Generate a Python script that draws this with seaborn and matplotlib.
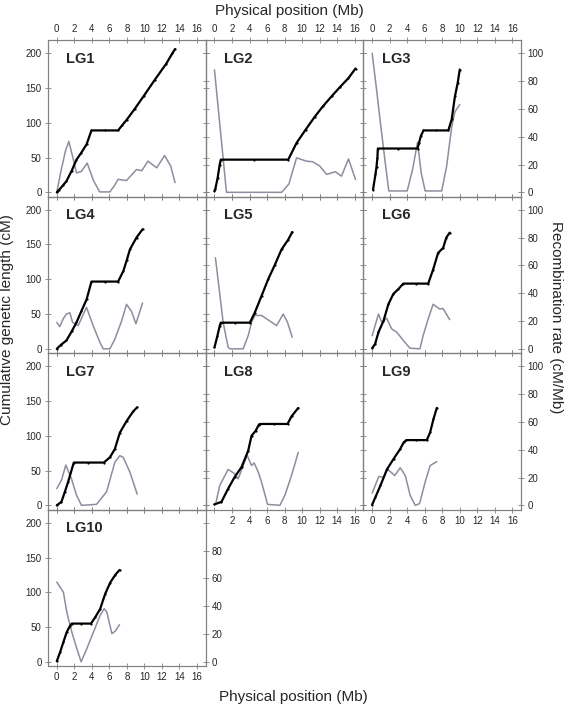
import matplotlib
matplotlib.use("Agg")
import matplotlib.pyplot as plt
import seaborn as sns

# Physical position (Mb) vs cumulative genetic length (cM)
lg1_pos = [0, 0.3, 0.7, 1.1, 1.7, 2.25, 2.8, 3.4, 3.96, 5.5, 7.0, 7.5, 7.96, 8.9, 9.9, 11.2, 12.5, 13.2, 13.5]
lg1_cm = [0, 4, 10, 16, 31, 47, 57, 69, 89, 89, 89, 97, 104, 120, 138, 162, 185, 200, 206]
lg2_pos = [0, 0.1, 0.35, 0.6, 0.72, 4.5, 8.42, 9.37, 10.4, 11.47, 12.4, 13.37, 14.3, 15.28, 16.1]
lg2_cm = [2, 5, 20, 40, 47, 47, 47, 71, 90, 109, 124, 138, 151, 164, 178]
lg3_pos = [0.1, 0.38, 0.5, 0.6, 0.65, 2.9, 5.18, 5.35, 5.56, 5.86, 7.3, 8.7, 9.08, 9.45, 9.76, 10.0]
lg3_cm = [4, 26, 37, 50, 63, 63, 63, 71, 81, 89, 89, 89, 105, 138, 157, 176.5]
lg4_pos = [0, 0.5, 1.1, 1.7, 2.25, 2.8, 3.4, 3.96, 5.5, 7.0, 7.6, 8.0, 8.35, 9.1, 9.8]
lg4_cm = [0, 6, 12, 25, 38, 54, 71, 96.7, 96.7, 96.7, 112, 128, 143, 160, 172]
lg5_pos = [0, 0.34, 0.6, 0.72, 2.4, 4.04, 4.6, 5.37, 6.13, 6.9, 7.66, 8.42, 8.88]
lg5_cm = [2, 19, 33, 37.6, 37.6, 37.6, 52, 76, 100, 121, 143, 157, 168]
lg6_pos = [0, 0.34, 0.72, 1.29, 1.85, 2.42, 3.0, 3.55, 5.0, 6.4, 6.96, 7.53, 8.1, 8.47, 8.85]
lg6_cm = [1, 7, 24, 40, 64, 79, 86, 93.8, 93.8, 93.8, 114, 138, 145, 160, 167]
lg7_pos = [0, 0.53, 0.91, 1.3, 1.94, 3.6, 5.37, 6.06, 6.63, 7.2, 7.96, 8.72, 9.18]
lg7_cm = [0, 5, 19, 34, 61.5, 61.5, 61.5, 69, 81, 104.5, 121, 135, 141]
lg8_pos = [0, 0.8, 1.56, 2.32, 3.09, 3.85, 4.23, 4.69, 5.07, 5.18, 6.8, 8.34, 8.8, 9.56]
lg8_cm = [1.4, 5, 24, 41, 55, 78.5, 100, 107, 116, 117, 117, 117, 128, 140]
lg9_pos = [0, 0.38, 0.95, 1.7, 2.46, 3.2, 3.6, 3.9, 5.0, 6.24, 6.62, 7.0, 7.38]
lg9_cm = [1, 12, 28.6, 52, 67, 81, 90.5, 93.8, 93.8, 93.8, 105, 124, 140]
lg10_pos = [0, 0.38, 0.76, 1.14, 1.52, 1.71, 2.8, 3.9, 4.38, 4.95, 5.52, 6.1, 6.67, 7.16]
lg10_cm = [1, 14, 28.6, 43, 52, 55, 55, 55, 64, 76, 97.6, 114, 125, 132]

# Recombination rate (cM/Mb) along each linkage group
lg1_rpos = [0, 0.5, 1.0, 1.37, 1.8, 2.25, 2.8, 3.47, 4.2, 4.9, 6.06, 6.6, 7.0, 7.96, 9.1, 9.7, 10.4, 11.4, 12.3, 13.0, 13.5]
lg1_rate = [0, 16, 30, 36.6, 26, 14, 15, 21, 8.3, 0.3, 0.3, 5, 9.3, 8.5, 16.4, 15.5, 22.4, 17.6, 26.4, 19, 7]
lg2_rpos = [0, 1.37, 4.5, 7.66, 8.5, 9.37, 10.5, 11.2, 12.0, 12.8, 13.8, 14.5, 15.3, 16.1]
lg2_rate = [88, 0, 0, 0, 6, 24.8, 22.4, 22, 19, 12.9, 14.8, 11.6, 24, 9.3]
lg3_rpos = [0, 0.5, 1.0, 1.5, 1.9, 4.0, 4.6, 5.18, 5.6, 6.05, 7.94, 8.5, 9.08, 9.45, 10.0]
lg3_rate = [100, 74, 47, 21, 1, 1, 16, 36, 14, 1, 1, 18.7, 47, 58, 63]
lg4_rpos = [0, 0.34, 0.72, 1.1, 1.49, 1.8, 2.44, 3.39, 4.15, 4.91, 5.3, 6.06, 6.63, 7.4, 7.96, 8.34, 8.53, 9.03, 9.79]
lg4_rate = [19, 16, 21.5, 25, 26, 19, 16.7, 29.8, 16.7, 4.8, 0, 0, 7, 20, 32, 28.6, 27, 18, 33]
lg5_rpos = [0.11, 0.99, 1.56, 1.75, 3.28, 3.85, 4.23, 4.61, 5.37, 6.32, 7.09, 7.85, 8.34, 8.88]
lg5_rate = [65.5, 19, 1.2, 0, 0, 9.5, 19, 24, 24, 20, 16.7, 25, 19, 8.3]
lg6_rpos = [0, 0.72, 1.1, 1.66, 2.23, 2.8, 3.56, 4.31, 5.45, 5.82, 6.39, 6.96, 7.72, 8.09, 8.85]
lg6_rate = [9.5, 25, 19, 22, 14.3, 12, 6, 0.5, 0, 9.5, 21.4, 32, 28.6, 29, 21]
lg7_rpos = [0, 0.53, 1.03, 1.68, 2.25, 2.82, 4.53, 5.68, 6.63, 7.2, 7.58, 8.34, 9.18]
lg7_rate = [12, 18, 29, 19, 7.3, 0, 0.7, 9.7, 31, 35.7, 34.5, 24, 8]
lg8_rpos = [0.15, 0.61, 1.56, 2.32, 2.7, 3.28, 3.73, 4.23, 4.53, 4.99, 5.37, 6.06, 7.47, 8.04, 8.8, 9.56]
lg8_rate = [1.4, 14.4, 25.8, 22.7, 19, 28.6, 36, 28.6, 30.5, 24, 16.8, 0.7, 0, 7.3, 21.5, 38]
lg9_rpos = [0, 0.76, 1.32, 1.7, 2.16, 2.57, 3.21, 3.78, 4.35, 4.92, 5.41, 6.05, 6.62, 7.38]
lg9_rate = [8.8, 20.7, 20.2, 26, 23.8, 21.4, 27, 21.4, 7, 0, 1.2, 16.7, 28.6, 31.4]
lg10_rpos = [0, 0.76, 1.14, 1.71, 2.29, 2.78, 3.43, 4.19, 4.95, 5.41, 5.71, 6.29, 6.67, 7.16]
lg10_rate = [57.3, 50, 35.8, 21.5, 9.5, 0, 9.5, 21.5, 33.4, 38.2, 35.8, 20.3, 22, 26.7]

names = ["LG1", "LG2", "LG3", "LG4", "LG5", "LG6", "LG7", "LG8", "LG9", "LG10"]
panels = list(zip(
    names,
    [lg1_pos, lg2_pos, lg3_pos, lg4_pos, lg5_pos, lg6_pos, lg7_pos, lg8_pos, lg9_pos, lg10_pos],
    [lg1_cm, lg2_cm, lg3_cm, lg4_cm, lg5_cm, lg6_cm, lg7_cm, lg8_cm, lg9_cm, lg10_cm],
    [lg1_rpos, lg2_rpos, lg3_rpos, lg4_rpos, lg5_rpos, lg6_rpos, lg7_rpos, lg8_rpos, lg9_rpos, lg10_rpos],
    [lg1_rate, lg2_rate, lg3_rate, lg4_rate, lg5_rate, lg6_rate, lg7_rate, lg8_rate, lg9_rate, lg10_rate],
))

sns.set_style("ticks")
plt.rcParams["font.family"] = ["Liberation Sans", "DejaVu Sans"]

grey = "#808080"
rate_col = "#8d8d9f"

fig, axes = plt.subplots(4, 3, figsize=(5.67, 7.08), dpi=100,
                         gridspec_kw=dict(left=0.0847, right=0.919, top=0.9435,
                                          bottom=0.0593, hspace=0, wspace=0))
axes[3, 1].remove()
axes[3, 2].remove()

xt = list(range(0, 17, 2))

for i, (name, pos, cm, rpos, rate) in enumerate(panels):
    r, c = divmod(i, 3)
    ax = axes[r, c]
    tw = ax.twinx()

    # recombination rate on the right axis
    sns.lineplot(x=rpos, y=rate, ax=tw, color=rate_col, lw=1.1, estimator=None, sort=False)
    # cumulative map position on the left axis
    sns.lineplot(x=pos, y=cm, ax=ax, color="black", lw=1.6, marker="o", markersize=1.6,
                 markeredgewidth=0, estimator=None, sort=False)
    ax.set_zorder(tw.get_zorder() + 1)
    ax.patch.set_visible(False)

    ax.set_xlim(-1, 17)
    ax.set_ylim(-6, 219)
    ax.set_yticks(range(0, 201, 50))
    if name == "LG8":
        ax.set_xticks(xt, labels=[""] + [str(v) for v in xt[1:]])
    else:
        ax.set_xticks(xt)
    ax.tick_params(axis="both", direction="inout", length=4, width=0.6, color=grey,
                   labelsize=7, pad=2.5, top=True, bottom=True,
                   labeltop=(r == 0), labelbottom=(name in ("LG8", "LG9", "LG10")),
                   labelleft=(c == 0))

    tw.set_ylim(-3, 109.5)
    if name == "LG10":
        tw.set_yticks(range(0, 101, 20), labels=["0", "20", "40", "60", "80", ""])
    else:
        tw.set_yticks(range(0, 101, 20))
    tw.tick_params(direction="inout", length=4, width=0.6, color=grey, labelsize=7,
                   pad=2.5, labelright=(c == 2 or name == "LG10"))

    for a in (ax, tw):
        a.set_xlabel("")
        a.set_ylabel("")
        for s in a.spines.values():
            s.set_color(grey)
            s.set_linewidth(0.8)

    ax.text(0.115, 0.925, name, transform=ax.transAxes, fontsize=10.5,
            fontweight="bold", va="top", ha="left")

fig.text(0.51, 0.985, "Physical position (Mb)", ha="center", va="center", fontsize=11)
fig.text(0.517, 0.016, "Physical position (Mb)", ha="center", va="center", fontsize=11)
fig.text(0.012, 0.548, "Cumulative genetic length (cM)", rotation=90,
         ha="center", va="center", fontsize=11)
fig.text(0.981, 0.552, "Recombination rate (cM/Mb)", rotation=270,
         ha="center", va="center", fontsize=11)

fig.savefig("out.png", dpi=100)
